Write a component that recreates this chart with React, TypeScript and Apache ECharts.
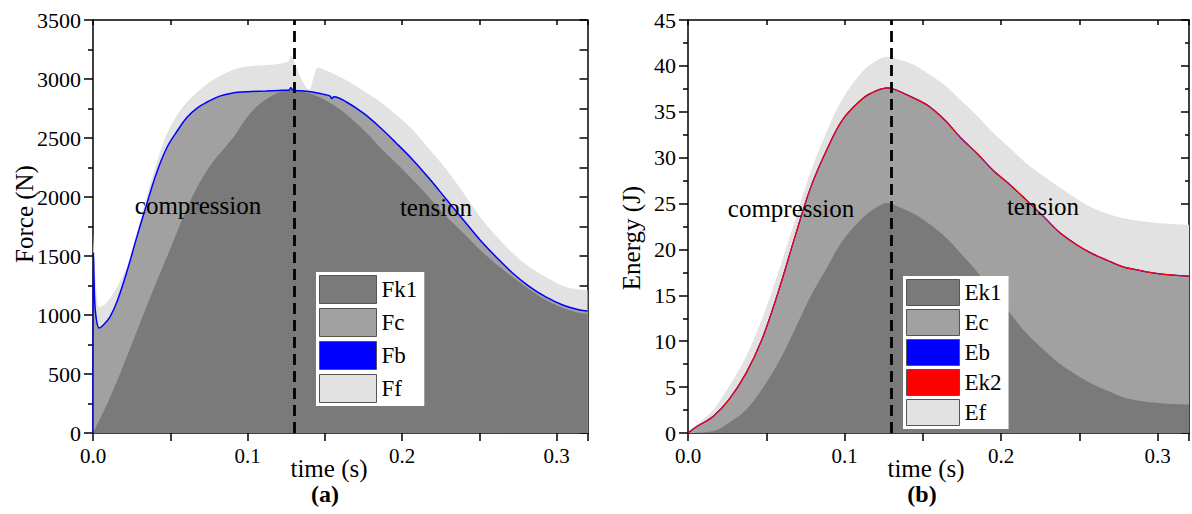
import React, { useEffect, useRef } from "react";
import * as echarts from "echarts";

// ---------- Data (time s, value) ----------
// Panel (a): Force (N) – cumulative layer tops
const forceFfTop: [number, number][] = [
  [0, 1700], [0.001, 1450], [0.002, 1250], [0.004, 1070], [0.007, 1085], [0.011, 1140],
  [0.016, 1250], [0.022, 1410], [0.028, 1680], [0.034, 1970], [0.041, 2280], [0.048, 2542],
  [0.058, 2760], [0.069, 2907], [0.08, 3010], [0.0905, 3076], [0.1, 3105], [0.112, 3119],
  [0.122, 3132], [0.1265, 3150], [0.128, 3200], [0.131, 3120], [0.1355, 2980], [0.14, 2910],
  [0.1425, 3000], [0.1455, 3095], [0.152, 3065], [0.164, 2990], [0.175, 2900], [0.1855, 2810],
  [0.196, 2700], [0.207, 2568], [0.218, 2400], [0.229, 2229], [0.24, 2030], [0.2505, 1831],
  [0.261, 1670], [0.2715, 1525], [0.282, 1410], [0.293, 1322], [0.306, 1237], [0.32, 1210]
];
const forceFbTop: [number, number][] = [
  [0, 0], [0.0003, 1530], [0.001, 1150], [0.002, 980], [0.004, 890], [0.007, 920], [0.011, 985],
  [0.016, 1130], [0.022, 1370], [0.028, 1645], [0.0336, 1890], [0.041, 2200], [0.048, 2424],
  [0.055, 2570], [0.061, 2678], [0.068, 2760], [0.074, 2805], [0.082, 2855], [0.0905, 2881],
  [0.1, 2892], [0.112, 2898], [0.12, 2903], [0.127, 2907], [0.128, 2925], [0.1295, 2905],
  [0.135, 2900], [0.142, 2890], [0.15, 2868], [0.1535, 2855], [0.1545, 2835], [0.156, 2850],
  [0.164, 2805], [0.175, 2710], [0.1855, 2593], [0.196, 2460], [0.207, 2314], [0.218, 2150],
  [0.229, 1975], [0.24, 1800], [0.2505, 1636], [0.261, 1490], [0.2715, 1356], [0.282, 1245],
  [0.293, 1153], [0.304, 1085], [0.315, 1042], [0.32, 1034]
];
const forceFk1Top: [number, number][] = [
  [0, 0], [0.011, 300], [0.025, 750], [0.037, 1150], [0.05, 1560], [0.0627, 1960], [0.075, 2250],
  [0.0905, 2500], [0.1, 2680], [0.108, 2790], [0.119, 2880], [0.128, 2907], [0.142, 2870],
  [0.153, 2800], [0.164, 2700], [0.175, 2570], [0.1855, 2424], [0.196, 2290], [0.207, 2144],
  [0.218, 1990], [0.229, 1831], [0.24, 1690], [0.2505, 1551], [0.261, 1430], [0.2715, 1322],
  [0.282, 1220], [0.293, 1127], [0.304, 1060], [0.315, 1017], [0.32, 1010]
];

// Panel (b): Energy (J) – cumulative layer tops
const energyEfTop: [number, number][] = [
  [0, 0], [0.0056, 0.9], [0.016, 2.5], [0.026, 5.0], [0.037, 8.3], [0.047, 12.3], [0.0575, 17.4],
  [0.068, 23.0], [0.078, 28.3], [0.089, 33.0], [0.099, 36.5], [0.112, 39.5], [0.1205, 40.6],
  [0.1275, 41.0], [0.1325, 40.8], [0.143, 40.2], [0.153, 39.2], [0.164, 37.9], [0.174, 36.3],
  [0.185, 34.5], [0.195, 32.7], [0.206, 31.0], [0.216, 29.4], [0.227, 28.0], [0.237, 26.8],
  [0.2475, 25.6], [0.2575, 24.6], [0.268, 23.9], [0.278, 23.4], [0.289, 23.1], [0.299, 22.9],
  [0.31, 22.75], [0.32, 22.7]
];
const energyEk2Top: [number, number][] = [
  [0, 0], [0.0056, 0.7], [0.016, 1.8], [0.026, 3.6], [0.037, 6.5], [0.047, 10.1], [0.0575, 15.3],
  [0.068, 21.2], [0.078, 26.6], [0.089, 31.0], [0.099, 34.2], [0.112, 36.5], [0.1205, 37.3],
  [0.1275, 37.6], [0.1325, 37.4], [0.143, 36.6], [0.153, 35.7], [0.164, 34.1], [0.174, 32.2],
  [0.185, 30.4], [0.195, 28.6], [0.206, 27.0], [0.216, 25.4], [0.227, 23.6], [0.237, 21.9],
  [0.2475, 20.6], [0.2575, 19.6], [0.268, 18.8], [0.278, 18.1], [0.289, 17.7], [0.299, 17.4],
  [0.31, 17.2], [0.32, 17.1]
];
const energyEk1Top: [number, number][] = [
  [0, 0], [0.016, 0.2], [0.026, 1.1], [0.037, 2.5], [0.047, 4.7], [0.0575, 7.6], [0.068, 11.2],
  [0.078, 14.8], [0.089, 18.1], [0.099, 21.0], [0.112, 23.5], [0.1205, 24.6], [0.1275, 25.1],
  [0.1325, 24.8], [0.143, 24.0], [0.153, 22.9], [0.164, 21.4], [0.174, 19.6], [0.185, 17.5],
  [0.195, 15.3], [0.206, 13.0], [0.216, 10.9], [0.227, 9.1], [0.237, 7.6], [0.2475, 6.4],
  [0.2575, 5.4], [0.268, 4.6], [0.278, 3.9], [0.289, 3.5], [0.299, 3.3], [0.31, 3.15], [0.32, 3.1]
];

const forceLegend = ["Fk1", "Fc", "Fb", "Ff"];
const energyLegend = ["Ek1", "Ec", "Eb", "Ek2", "Ef"];
const peakTimeA = 0.128;
const peakTimeB = 0.1275;

// ---------- Styles ----------
const FONT = '"Liberation Serif", "Times New Roman", serif';
const DARK = "#7a7a7a";
const MID = "#a1a1a1";
const LIGHT = "#e2e2e2";
const BLUE = "#0000ff";
const RED = "#ff0000";

const xLabelFmt = (v: number) => {
  const r = Math.round(v * 10);
  return Math.abs(v * 10 - r) < 1e-6 && v < 0.315 ? (r / 10).toFixed(1) : "";
};
const yLabelFmt = (v: number) => String(Math.round(v));

function bottomX(gridIndex: number) {
  return {
    type: "value", gridIndex, min: 0, max: 0.32, interval: 0.05, position: "bottom",
    axisLine: { show: true, onZero: false, lineStyle: { color: "#000", width: 1.5 } },
    axisTick: { show: true, inside: false, length: 8, lineStyle: { color: "#000", width: 1.5 } },
    axisLabel: { formatter: xLabelFmt, fontSize: 21, color: "#000", fontFamily: FONT, margin: 12 },
    splitLine: { show: false },
  };
}
function topX(gridIndex: number) {
  return {
    type: "value", gridIndex, min: 0, max: 0.32, interval: 0.05, position: "top",
    axisLine: { show: true, onZero: false, lineStyle: { color: "#000", width: 1.5 } },
    axisTick: { show: true, inside: true, length: 5, lineStyle: { color: "#000", width: 1.5 } },
    axisLabel: { show: false },
    splitLine: { show: false },
  };
}
function leftY(gridIndex: number, max: number, interval: number) {
  return {
    type: "value", gridIndex, min: 0, max, interval, position: "left",
    axisLine: { show: true, onZero: false, lineStyle: { color: "#000", width: 1.5 } },
    axisTick: { show: true, inside: false, length: 9, lineStyle: { color: "#000", width: 1.5 } },
    minorTick: { show: true, splitNumber: 2, length: 5, lineStyle: { color: "#000", width: 1.5 } },
    axisLabel: { formatter: yLabelFmt, fontSize: 22, color: "#000", fontFamily: FONT, margin: 12 },
    splitLine: { show: false }, minorSplitLine: { show: false },
  };
}
function rightY(gridIndex: number, max: number, interval: number, minor: boolean) {
  return {
    type: "value", gridIndex, min: 0, max, interval, position: "right",
    axisLine: { show: true, onZero: false, lineStyle: { color: "#000", width: 1.5 } },
    axisTick: { show: true, inside: true, length: 8, lineStyle: { color: "#000", width: 1.5 } },
    minorTick: { show: minor, splitNumber: 2, length: 4, lineStyle: { color: "#000", width: 1.5 } },
    axisLabel: { show: false },
    splitLine: { show: false }, minorSplitLine: { show: false },
  };
}

function area(name: string, data: [number, number][], color: string, z: number, axis: number) {
  return {
    type: "line", name, data, xAxisIndex: axis, yAxisIndex: axis, z,
    symbol: "none", showSymbol: false, smooth: 0.35, silent: true,
    lineStyle: { width: 0 }, itemStyle: { color }, areaStyle: { color, opacity: 1 },
  };
}
function curve(name: string, data: [number, number][], color: string, z: number, axis: number, width: number) {
  return {
    type: "line", name, data, xAxisIndex: axis, yAxisIndex: axis, z,
    symbol: "none", showSymbol: false, smooth: 0.35, silent: true,
    lineStyle: { width, color }, itemStyle: { color },
  };
}
function dashed(x: number) {
  return {
    silent: true, symbol: "none", z: 6,
    label: { show: false },
    lineStyle: { color: "#000", width: 2.8, type: [11, 6] },
    data: [{ xAxis: x }],
  };
}

const legendColors: Record<string, string> = {
  Fk1: DARK, Fc: MID, Fb: BLUE, Ff: LIGHT,
  Ek1: DARK, Ec: MID, Eb: BLUE, Ek2: RED, Ef: LIGHT,
};

function legend(names: string[], left: number, top: number, w: number, h: number, gap: number) {
  return {
    orient: "vertical", left, top, itemWidth: w, itemHeight: h, itemGap: gap,
    backgroundColor: "#fff", padding: [3, 7, 3, 3], selectedMode: false,
    textStyle: { fontSize: 23, fontFamily: FONT, color: "#000" },
    data: names.map((n) => ({
      name: n, icon: "rect",
      itemStyle: { color: legendColors[n], borderColor: "#555", borderWidth: 1 },
    })),
  };
}

function txt(text: string, x: number, y: number, size: number, opts: any = {}) {
  return {
    type: "text", x, y, z: 100, silent: true, rotation: opts.rotation || 0,
    style: {
      text, fontSize: size, fontFamily: FONT, fontWeight: opts.bold ? "bold" : "normal",
      fill: "#000", align: "center", verticalAlign: "middle",
    },
  };
}

export default function App() {
  const ref = useRef<HTMLDivElement>(null);
  useEffect(() => {
    if (!ref.current) return;
    const chart = echarts.init(ref.current, null, { renderer: "svg" });
    const option: any = {
      animation: false,
      backgroundColor: "#fff",
      grid: [
        { left: 93, top: 20, width: 494.5, height: 413 },
        { left: 688, top: 20, width: 512, height: 413 },
      ],
      xAxis: [bottomX(0), topX(0), bottomX(1), topX(1)],
      yAxis: [
        leftY(0, 3500, 500), rightY(0, 3500, 250, false),
        leftY(1, 45, 5), rightY(1, 45, 5, true),
      ],
      legend: [
        legend(forceLegend, 316, 272, 57, 28, 4),
        legend(energyLegend, 903, 276, 53, 26, 3),
      ],
      series: [
        area("Ff", forceFfTop, LIGHT, 1, 0),
        area("Fc", forceFbTop, MID, 2, 0),
        area("Fk1", forceFk1Top, DARK, 3, 0),
        { ...curve("Fb", forceFbTop, BLUE, 4, 0, 1.5), markLine: dashed(peakTimeA) },
        area("Ef", energyEfTop, LIGHT, 1, 2),
        area("Ec", energyEk2Top, MID, 2, 2),
        area("Ek1", energyEk1Top, DARK, 3, 2),
        curve("Eb", energyEk2Top, BLUE, 4, 2, 1.2),
        { ...curve("Ek2", energyEk2Top, RED, 4, 2, 1.2), markLine: dashed(peakTimeB) },
      ],
      graphic: [
        txt("compression", 198, 205, 25),
        txt("tension", 436, 207, 25),
        txt("compression", 791, 208, 25),
        txt("tension", 1043, 206, 25),
        txt("Force (N)", 24, 214, 25, { rotation: Math.PI / 2 }),
        txt("Energy (J)", 631, 238, 25, { rotation: Math.PI / 2 }),
        txt("time (s)", 329, 468, 25),
        txt("time (s)", 926, 468, 25),
        txt("(a)", 325, 494, 24, { bold: true }),
        txt("(b)", 922, 494, 24, { bold: true }),
      ],
    };
    chart.setOption(option);
    return () => chart.dispose();
  }, []);
  return (
    <div
      ref={ref}
      style={{ position: "fixed", left: 0, top: 0, width: 1192, height: 514, background: "#fff" }}
    />
  );
}
